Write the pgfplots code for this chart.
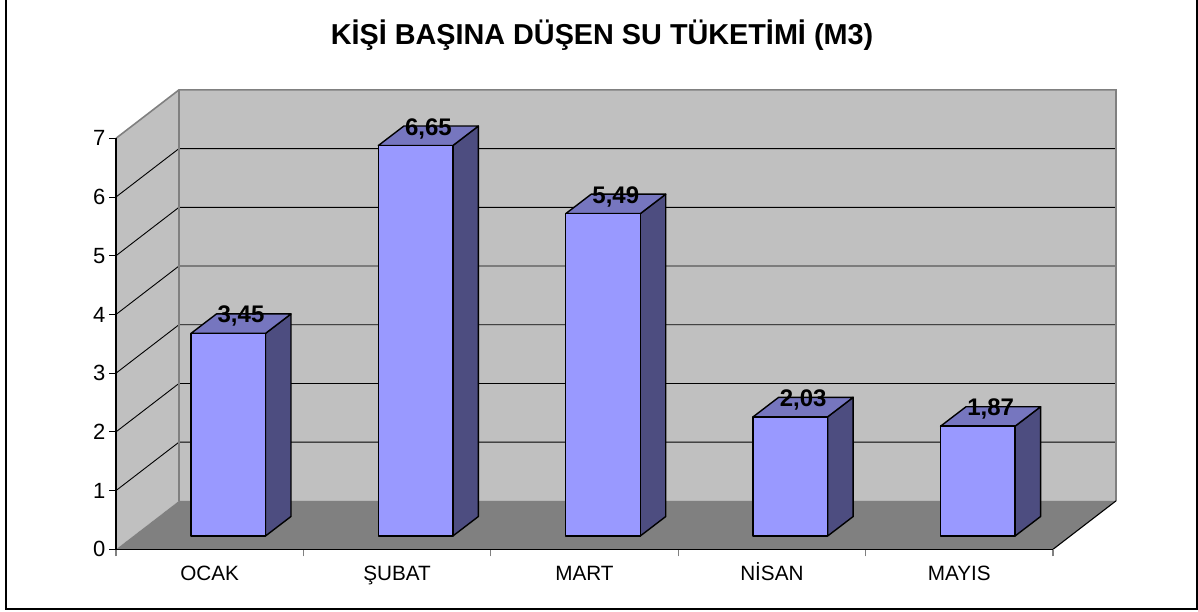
\documentclass[border=0pt]{standalone}
\usepackage{pgfplots}
\pgfplotsset{compat=1.18}
\usepackage{fontspec}
\setmainfont{Liberation Sans}
\definecolor{wall}{HTML}{C0C0C0}
\definecolor{floorc}{HTML}{808080}
\definecolor{barf}{HTML}{9999FF}
\definecolor{bart}{HTML}{7676BF}
\definecolor{bars}{HTML}{4D4D80}
\newcommand{\wallx}{0.336}
\newcommand{\wally}{0.8245}
\newcommand{\gridl}[1]{%
  \pgfmathsetmacro{\yb}{#1+\wally}%
  \addplot[black,line width=0.9pt] coordinates {(0,#1) (\wallx,\yb) (5.336,\yb)};%
}
\newcommand{\threedbar}[2]{%
  \pgfmathsetmacro{\xa}{#1+0.4}%
  \pgfmathsetmacro{\xb}{#1+0.7976}%
  \pgfmathsetmacro{\xc}{#1+0.9337}%
  \pgfmathsetmacro{\xd}{#1+0.5361}%
  \pgfmathsetmacro{\ya}{0.2266}%
  \pgfmathsetmacro{\yb}{0.2266+#2}%
  \pgfmathsetmacro{\yc}{0.2266+0.332+#2}%
  \pgfmathsetmacro{\yd}{0.2266+0.332}%
  \addplot[fill=bars,draw=black,line width=1.4pt,line join=round] coordinates {(\xb,\ya) (\xc,\yd) (\xc,\yc) (\xb,\yb)} --cycle;%
  \addplot[fill=bart,draw=black,line width=1.4pt,line join=round] coordinates {(\xa,\yb) (\xb,\yb) (\xc,\yc) (\xd,\yc)} --cycle;%
  \addplot[fill=barf,draw=black,line width=1.4pt,line join=round] coordinates {(\xa,\ya) (\xb,\ya) (\xb,\yb) (\xa,\yb)} --cycle;%
}
\begin{document}
\begin{tikzpicture}[x=1pt,y=1pt]
\path[use as bounding box] (0,0) rectangle (1198,612);
\draw[black,line width=1.6pt] (6,612) -- (6,3) -- (1197,3) -- (1197,612);
\node[font=\bfseries\fontsize{28.8}{34}\selectfont,anchor=center] at (602,577) {KİŞİ BAŞINA DÜŞEN SU TÜKETİMİ (M3)};
\begin{axis}[
  at={(116pt,62.7pt)},anchor=south west,
  scale only axis,width=937pt,height=411pt,
  xmin=0,xmax=5,ymin=0,ymax=7,
  clip=false,axis on top=true,
  axis x line=bottom,axis y line=left,
  axis line style={-,black,line width=1.1pt},
  xtick={0.5,1.5,2.5,3.5,4.5},
  xticklabels={OCAK,ŞUBAT,MART,NİSAN,MAYIS},
  minor xtick={0,1,2,3,4,5},
  ytick={0,1,2,3,4,5,6,7},
  major tick length=7pt,minor tick length=7pt,
  tick align=outside,
  x tick style={draw=none},
  minor x tick style={draw=floorc,line width=1.1pt},
  y tick style={draw=black,line width=1pt},
  x tick label style={font=\fontsize{20.7}{24}\selectfont,anchor=base,text height=15pt,text depth=0pt,yshift=-24pt},
  y tick label style={font=\fontsize{22}{26}\selectfont},
  /pgf/number format/assume math mode=true,
]
% walls
\addplot[fill=wall,draw=none] coordinates {(0,0) (0.336,0.8245) (5.336,0.8245) (5.336,7.8245) (0.336,7.8245) (0,7)} --cycle;
% grid
\gridl{1}\gridl{2}\gridl{3}\gridl{4}\gridl{5}\gridl{6}
% wall edges
\addplot[floorc,line width=1.6pt] coordinates {(0,7) (0.336,7.8245) (5.336,7.8245) (5.336,0.8245)};
\addplot[floorc,line width=1.6pt] coordinates {(0.336,7.8245) (0.336,0.8245)};
% floor
\addplot[fill=floorc,draw=none] coordinates {(0,0) (5,0) (5.336,0.8245) (0.336,0.8245)} --cycle;
\addplot[black,line width=1.1pt] coordinates {(5,0) (5.336,0.8245)};
% bars
\threedbar{0}{3.45}
\threedbar{1}{6.65}
\threedbar{2}{5.49}
\threedbar{3}{2.03}
\threedbar{4}{1.87}
% labels
\addplot[draw=none,mark=none,nodes near coords,point meta=explicit symbolic,
  nodes near coords style={anchor=center,inner sep=0pt,text=black,yshift=-2.5pt,font=\bfseries\fontsize{24}{28}\selectfont}]
  table[x=x,y=y,meta=label] {
x y label
0.667 4.008 3,45
1.667 7.208 6,65
2.667 6.048 5,49
3.667 2.588 2,03
4.667 2.428 1,87
};
\end{axis}
\end{tikzpicture}
\end{document}
